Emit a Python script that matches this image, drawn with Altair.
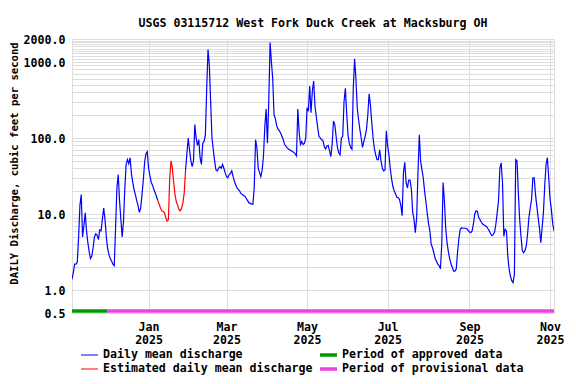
import altair as alt
import pandas as pd

START = "2024-11-04"
END = "2025-11-04"

# daily mean discharge (cfs), one value per day from START
flow = [
    1.38, 1.7, 2.2, 2.2, 2.3, 5.0, 13, 18, 5.0, 7,
    10.4, 6, 4.2, 3.2, 2.6, 2.8, 3.6, 5.0, 5.5, 5.3,
    4.6, 6.2, 6.0, 8.5, 12, 8.5, 5.0, 3.5, 2.9, 2.6,
    2.4, 2.2, 2.1, 6.6, 22, 33, 15, 8.5, 5.0, 8.0,
    22, 45, 52, 46, 55, 34, 26, 21, 18, 15,
    13, 10.5, 12, 18, 28, 48, 62, 66, 40, 32,
    26, 24, 21, 19, 17, 15, 13.5, 12, 11, 10.8,
    10.4, 9, 8.1, 8.4, 30, 50, 40, 26, 18, 14.5,
    13, 11.5, 11, 12, 14, 19, 38, 62, 100, 70,
    50, 42, 50, 150, 100, 80, 95, 55, 45, 85,
    90, 110, 440, 1450, 900, 300, 100, 70, 50, 38,
    37, 40, 42, 40, 45, 40, 35, 31, 30, 33,
    34, 37, 31, 27, 24, 22, 21, 20, 18.5, 18,
    17.5, 17, 16, 15, 14, 13.8, 13.5, 13.5, 22, 95,
    75, 40, 35, 31, 38, 58, 140, 240, 85, 300,
    1800, 1000, 600, 200, 180, 145, 130, 125, 115, 105,
    95, 82, 78, 74, 71, 70, 68, 66, 65, 62,
    58, 240, 120, 82, 90, 82, 85, 100, 250, 225,
    480, 215, 415, 560, 263, 190, 140, 105, 100, 95,
    93, 78, 72, 78, 80, 68, 57, 82, 167, 150,
    105, 75, 64, 60, 100, 105, 300, 450, 215, 110,
    85, 75, 71, 450, 1100, 600, 250, 175, 130, 100,
    75, 90, 105, 130, 200, 380, 270, 160, 100, 72,
    60, 52, 52, 70, 50, 40, 37, 38, 124, 80,
    60, 40, 29, 23, 20, 18.5, 16.5, 16.5, 15.5, 13,
    9.5, 35, 48, 26, 22, 28, 28, 21, 10.5, 8.5,
    5.7, 9, 35, 110, 50, 38, 30, 20, 14.5, 10.2,
    7.5, 6.0, 4.0, 3.6, 3.1, 2.6, 2.4, 2.2, 2.1, 1.9,
    4, 26, 15, 6.5, 4.2, 3.2, 2.6, 2.2, 2.0, 1.78,
    1.78, 1.9, 3.2, 4.8, 6.3, 6.6, 6.5, 6.5, 6.5, 6.4,
    6.1, 5.8, 5.7, 6.0, 7.5, 10, 11, 10.8, 9, 8.4,
    7.8, 7.4, 7.2, 7.0, 6.8, 6.4, 6.0, 5.5, 5.2, 5.4,
    5.8, 7.4, 10.5, 15, 40, 47, 26, 5.1, 6.3, 6.0,
    2.8, 1.9, 1.53, 1.33, 1.25, 1.6, 52, 50, 19, 8.5,
    5.1, 3.3, 3.1, 3.3, 3.8, 5.5, 9, 12, 15.5, 30,
    30, 18, 12.7, 8.9, 6.5, 4.2, 6.6, 10.5, 24, 45,
    55, 30, 16, 11.5, 7.5, 6.0,
]
# estimated values span these day indexes
est_first, est_last = 65, 86

series_names = ["Daily mean discharge", "Estimated daily mean discharge",
                "Period of approved data", "Period of provisional data"]
series_colors = ["#0000ff", "#ff0000", "#009a00", "#f041e0"]
series_widths = [1.2, 1.2, 3.5, 3.5]

period_names = ["Period of approved data", "Period of provisional data"]
period_start = ["2024-11-04", "2024-12-01"]
period_end = ["2024-12-01", "2025-11-04"]

y_labels = [0.5, 1, 10, 100, 1000, 2000]
y_grid = [0.5] + [k * 10 ** e for e in range(0, 3) for k in range(1, 10)] + list(range(1000, 2001, 100))
x_ticks = [(2025, 1), (2025, 3), (2025, 5), (2025, 7), (2025, 9), (2025, 11)]

dates = pd.date_range(START, periods=len(flow), freq="D")
rows = []
for i, (d, v) in enumerate(zip(dates, flow)):
    ds = d.strftime("%Y-%m-%dT00:00:00")
    if i <= est_first:
        rows.append({"date": ds, "flow": v, "series": "Daily mean discharge", "seg": "a"})
    if est_first <= i <= est_last:
        rows.append({"date": ds, "flow": v, "series": "Estimated daily mean discharge", "seg": "b"})
    if i >= est_last:
        rows.append({"date": ds, "flow": v, "series": "Daily mean discharge", "seg": "c"})
df = pd.DataFrame(rows)

pdf = pd.DataFrame({
    "series": period_names,
    "start": [s + "T00:00:00" for s in period_start],
    "end": [s + "T00:00:00" for s in period_end],
})

FONT = "DejaVu Sans Mono"

x_scale = alt.Scale(domain=[alt.DateTime(year=2024, month=11, date=4),
                            alt.DateTime(year=2025, month=11, date=4)])
y_scale = alt.Scale(type="log", domain=[0.5, 2000], nice=False)
color_scale = alt.Scale(domain=series_names, range=series_colors)
sw_scale = alt.Scale(type="ordinal", domain=series_names, range=series_widths)

legend = alt.Legend(orient="none", legendX=7, legendY=309, columns=2, title=None,
                    symbolType="stroke", symbolSize=289, clipHeight=14, labelFont=FONT,
                    labelFontSize=11.6, labelFontWeight="bold", labelColor="black",
                    columnPadding=5, rowPadding=0, labelOffset=3, labelLimit=400)

label_test = " || ".join(f"datum.value === {v}" for v in y_labels)
edge_test = "datum.value === 0.5 || datum.value === 2000"

x_axis = alt.Axis(values=[alt.DateTime(year=y, month=m, date=1) for y, m in x_ticks],
                  labelExpr="[timeFormat(datum.value, '%b'), timeFormat(datum.value, '%Y')]",
                  title=None, ticks=False, domain=False, grid=True, labelFlush=False,
                  labelPadding=8, labelLineHeight=13, labelFont=FONT, labelFontSize=11.6,
                  labelFontWeight="bold", labelColor="black", labelOverlap=False)

y_axis = alt.Axis(values=y_grid,
                  labelExpr=f"({label_test}) ? format(datum.value, '.1f') : ''",
                  title="DAILY Discharge, cubic feet per second", ticks=False, domain=False,
                  grid=True, labelOverlap=False, labelFlush=False, labelPadding=7,
                  labelOffset=1.5,
                  gridOpacity={"condition": {"test": edge_test, "value": 0}, "value": 1},
                  labelFont=FONT, labelFontSize=11.6, labelFontWeight="bold", labelColor="black",
                  titleFont=FONT, titleFontSize=10.6, titleFontWeight="bold", titleColor="black",
                  titleAngle=270, titleX=-55, titleY=124, titleAlign="center",
                  titleBaseline="alphabetic")

periods = alt.Chart(pdf).mark_rule(yOffset=-2).encode(
    x=alt.X("start:T", scale=x_scale, axis=x_axis, title=None),
    x2="end:T",
    y=alt.datum(0.5),
    color=alt.Color("series:N", scale=color_scale, legend=legend),
    strokeWidth=alt.StrokeWidth("series:N", scale=sw_scale, legend=legend),
)

lines = alt.Chart(df).mark_line(clip=True).encode(
    x=alt.X("date:T", scale=x_scale, axis=x_axis, title=None),
    y=alt.Y("flow:Q", scale=y_scale, axis=y_axis),
    color=alt.Color("series:N", scale=color_scale, legend=legend),
    strokeWidth=alt.StrokeWidth("series:N", scale=sw_scale, legend=legend),
    detail="seg:N",
)

chart = alt.layer(lines, periods).properties(
    width=482, height=274,
    padding={"left": 64, "top": 31, "right": 12, "bottom": 63},
    autosize=alt.AutoSizeParams(type="none"),
    title=alt.TitleParams("USGS 03115712 West Fork Duck Creek at Macksburg OH",
                          font=FONT, fontSize=11.6, fontWeight="bold", color="black",
                          anchor="middle", offset=5),
).configure_view(
    stroke="black", strokeWidth=1.5
).configure_axis(
    gridColor="#c8c8c8", gridWidth=1
).configure(background="white")

chart.save("out.html", embed_options={"renderer": "svg", "actions": False})
